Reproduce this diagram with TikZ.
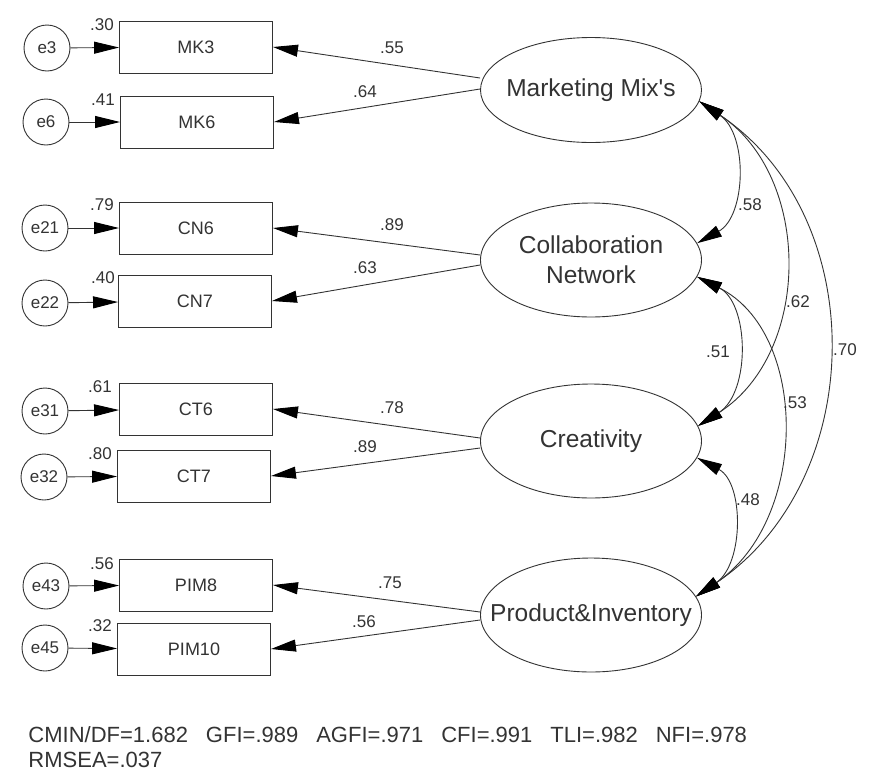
\documentclass[tikz,border=0pt]{standalone}
\usepackage{fontspec}
\setmainfont{Liberation Sans}
\usetikzlibrary{arrows.meta,shapes.geometric}
\tikzset{
  >={Triangle[length=25pt,width=12pt,color=black]},
  lat/.style={ellipse,draw,minimum width=221pt,minimum height=114pt,inner xsep=-30pt,inner ysep=0pt,align=center,font=\fontsize{24.5}{30}\selectfont},
  obs/.style={rectangle,draw,minimum width=153pt,minimum height=52pt,inner sep=0pt,font=\fontsize{18}{21}\selectfont},
  err/.style={circle,draw,minimum size=46pt,inner sep=0pt,font=\fontsize{17}{20}\selectfont},
  wt/.style={inner sep=0pt,font=\fontsize{17}{20}\selectfont},
  every picture/.style={line width=0.9pt},
}
\begin{document}
\begin{tikzpicture}[x=1pt,y=-1pt,color=black!80]
\useasboundingbox (0,0) rectangle (876,777);
% latent variables
\node[lat,minimum height=105pt] (MM) at (591,90){Marketing Mix\textquotesingle s};
\node[lat] (CN) at (591,260){Collaboration\\Network};
\node[lat] (CT) at (591,441){Creativity};
\node[lat] (PIM) at (591,615){Product\&Inventory};
% indicators
\node[obs] (MK3) at (196,47){MK3}; \node[obs] (MK6) at (197,122){MK6};
\node[obs] (CN6) at (196,228){CN6}; \node[obs] (CN7) at (195,301){CN7};
\node[obs] (CT6) at (196,409){CT6}; \node[obs] (CT7) at (194,476){CT7};
\node[obs] (PIM8) at (196,585){PIM8}; \node[obs] (PIM10) at (194,649){PIM10};
% errors
\node[err] (e3) at (47,48){e3}; \node[err] (e6) at (46,122){e6};
\node[err] (e21) at (45,228){e21}; \node[err] (e22) at (45,303){e22};
\node[err] (e31) at (45,411){e31}; \node[err] (e32) at (44,477){e32};
\node[err] (e43) at (46,586){e43}; \node[err] (e45) at (45,648){e45};
\draw[->] (e3)--(MK3); \draw[->] (e6)--(MK6); \draw[->] (e21)--(CN6); \draw[->] (e22)--(CN7);
\draw[->] (e31)--(CT6); \draw[->] (e32)--(CT7); \draw[->] (e43)--(PIM8); \draw[->] (e45)--(PIM10);
% squared multiple correlations
\node[wt] at ([xshift=-17pt,yshift=-4pt]MK3.north west){.30};
\node[wt] at ([xshift=-17pt,yshift=-4pt]MK6.north west){.41};
\node[wt] at ([xshift=-17pt,yshift=-3pt]CN6.north west){.79};
\node[wt] at ([xshift=-15pt,yshift=-3pt]CN7.north west){.40};
\node[wt] at ([xshift=-19pt,yshift=-4pt]CT6.north west){.61};
\node[wt] at ([xshift=-17pt,yshift=-4pt]CT7.north west){.80};
\node[wt] at ([xshift=-17pt,yshift=-5pt]PIM8.north west){.56};
\node[wt] at ([xshift=-17pt,yshift=-3pt]PIM10.north west){.32};
% loadings
\draw[->] ([yshift=12pt]MM.west)--(MK3.east); \draw[->] ([yshift=1pt]MM.west)--(MK6.east);
\draw[->] ([yshift=5pt]CN.west)--(CN6.east); \draw[->] ([yshift=-5pt]CN.west)--(CN7.east);
\draw[->] ([yshift=3pt]CT.west)--(CT6.east); \draw[->] ([yshift=-7pt]CT.west)--(CT7.east);
\draw[->] ([yshift=3pt]PIM.west)--(PIM8.east); \draw[->] ([yshift=-5pt]PIM.west)--(PIM10.east);
\node[wt] at (392,48){.55}; \node[wt] at (365,92){.64};
\node[wt] at (392,225){.89}; \node[wt] at (365,268){.63};
\node[wt] at (392,408){.78}; \node[wt] at (365,447){.89};
\node[wt] at (390,583){.75}; \node[wt] at (364,622){.56};
% covariances
\draw[<->] (MM.-6) .. controls +(49,33) and +(49,-27) .. (CN.9);
\draw[<->] (MM.-6) .. controls +(113,75) and +(114,-73) .. (CT.8);
\draw[<->] (MM.-6) .. controls +(172,115) and +(173,-117) .. (PIM.10);
\draw[<->] (CN.-9) .. controls +(52,26) and +(53,-34) .. (CT.8);
\draw[<->] (CN.-9) .. controls +(112,56) and +(113,-77) .. (PIM.10);
\draw[<->] (CT.-9) .. controls +(47,25) and +(48,-33) .. (PIM.10);
\node[wt] at (750,205){.58}; \node[wt] at (798,302){.62};
\node[wt] at (845,350){.70}; \node[wt] at (718,352){.51};
\node[wt] at (795,403){.53}; \node[wt] at (748,500){.48};
% fit indices
\node[anchor=north west,align=left,inner sep=0pt,font=\fontsize{22}{25}\selectfont] (fit) at (28,726)
  {CMIN/DF=1.682\hspace{18pt}GFI=.989\hspace{18pt}AGFI=.971\hspace{18pt}CFI=.991\hspace{18pt}TLI=.982\hspace{18pt}NFI=.978\\RMSEA=.037};
\end{tikzpicture}
\end{document}
